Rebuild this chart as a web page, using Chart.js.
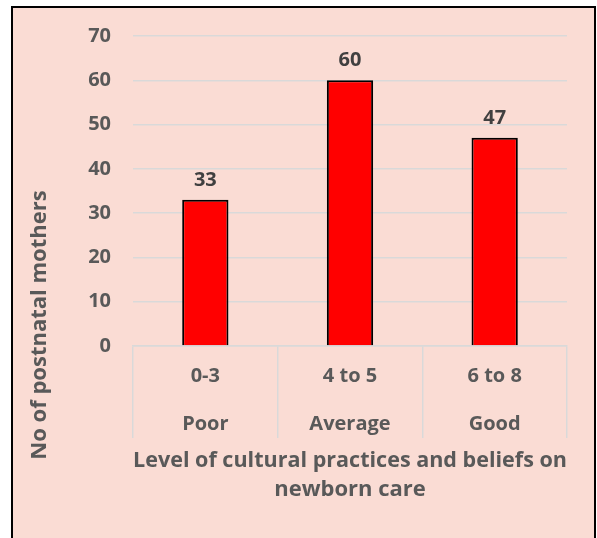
<!DOCTYPE html>
<html>
<head>
<meta charset="utf-8">
<script src="https://cdn.jsdelivr.net/npm/chart.js@4/dist/chart.umd.min.js"></script>
<style>
	body { margin: 0; background: #fff; }
	#box { position: absolute; left: 11px; top: 6px; width: 581px; height: 545px; border: 2px solid #000; background: #fadcd4; }
	#wrap { position: absolute; left: 0; top: 0; width: 597px; height: 538px; }
</style>
</head>
<body>
<div id="box"></div>
<div id="wrap"><canvas id="chart" width="597" height="538"></canvas></div>
<script>
'use strict'

const ranges = ['0-3', '4 to 5', '6 to 8'];
const levels = ['Poor', 'Average', 'Good'];
const mothers = [33, 60, 47];
const yTitle = 'No of postnatal mothers';
const xTitle = ['Level of cultural practices and beliefs on', 'newborn care'];

const fontFamily = '"Open Sans", sans-serif';
const axisGrey = '#595959';
const gridColor = '#d9d9d9';

const valueLabels = {
	id: 'valueLabels',
	afterDatasetsDraw(chart) {
		const ctx = chart.ctx;
		const meta = chart.getDatasetMeta(0);
		ctx.save();
		ctx.font = 'bold 20px ' + fontFamily;
		ctx.fillStyle = '#404040';
		ctx.textAlign = 'center';
		ctx.textBaseline = 'bottom';
		meta.data.forEach((bar, i) => {
			ctx.fillText(String(mothers[i]), bar.x, bar.y - 10);
		});
		ctx.restore();
	}
};

const sideTitle = {
	id: 'sideTitle',
	afterDraw(chart) {
		const ctx = chart.ctx;
		ctx.save();
		ctx.translate(40, 325);
		ctx.rotate(-Math.PI / 2);
		ctx.font = 'bold 22px ' + fontFamily;
		ctx.fillStyle = axisGrey;
		ctx.textAlign = 'center';
		ctx.textBaseline = 'middle';
		ctx.fillText(yTitle, 0, 0);
		ctx.restore();
	}
};

new Chart(document.getElementById('chart'), {
	type: 'bar',
	data: {
		labels: ranges.map((r, i) => [r, levels[i]]),
		datasets: [{
			data: mothers,
			backgroundColor: '#ff0000',
			borderColor: '#000000',
			borderWidth: 2,
			categoryPercentage: 1,
			barPercentage: 0.32,
		}],
	},
	options: {
		responsive: false,
		animation: false,
		layout: {
			padding: { top: 36, right: 30, left: 0, bottom: 0 },
		},
		plugins: {
			legend: { display: false },
			tooltip: { enabled: false },
		},
		scales: {
			y: {
				min: 0,
				max: 70,
				afterFit: (scale) => { scale.width = 133; },
				ticks: {
					stepSize: 10,
					padding: 22,
					color: axisGrey,
					font: { family: fontFamily, size: 20, weight: 'bold' },
				},
				grid: {
					color: gridColor,
					lineWidth: 1.5,
					tickLength: 0,
				},
				border: { display: false },
			},
			x: {
				afterFit: (scale) => { scale.height = 192; },
				ticks: {
					padding: -86,
					color: axisGrey,
					font: { family: fontFamily, size: 20, weight: 'bold', lineHeight: 2.4 },
				},
				grid: {
					offset: true,
					drawOnChartArea: false,
					tickLength: 92,
					color: gridColor,
					lineWidth: 1.5,
				},
				border: { color: gridColor, width: 1.5 },
				title: {
					display: true,
					text: xTitle,
					color: axisGrey,
					padding: { top: 0, bottom: 34 },
					font: { family: fontFamily, size: 22, weight: 'bold', lineHeight: 1.3 },
				},
			},
		},
	},
	plugins: [valueLabels, sideTitle],
});
</script>
</body>
</html>
